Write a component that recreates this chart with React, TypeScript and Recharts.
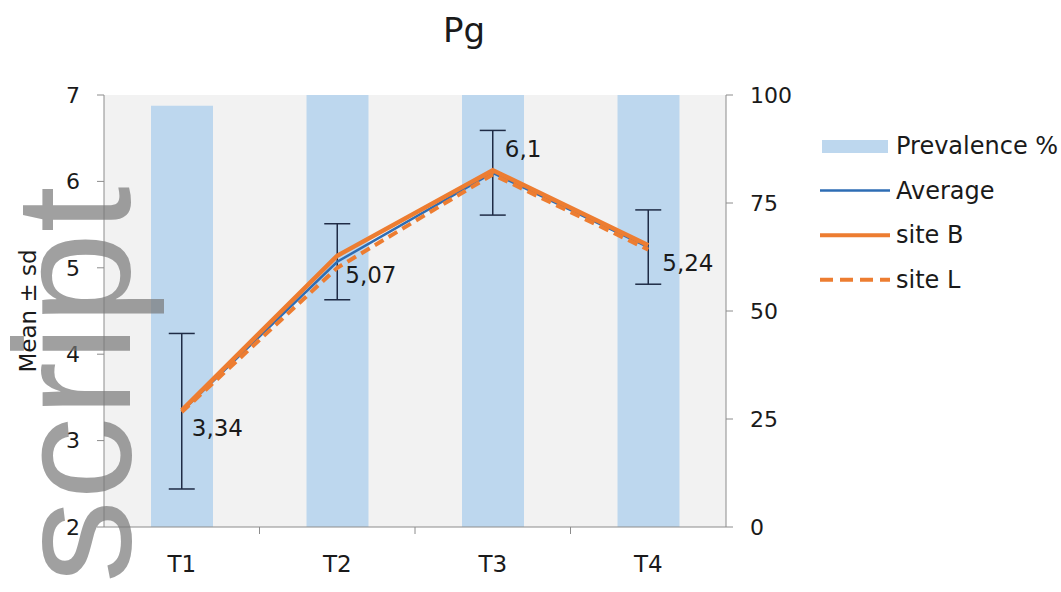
import React from 'react';
import {
  ComposedChart,
  Bar,
  Line,
  XAxis,
  YAxis,
  CartesianGrid,
  ErrorBar,
  LabelList,
  Legend,
} from 'recharts';

// ---- data ----
const categories = ['T1', 'T2', 'T3', 'T4'];
const prevalence = [97.5, 100, 100, 100];
const average = [3.34, 5.07, 6.1, 5.24];
const averageSd = [0.9, 0.44, 0.49, 0.43];
const siteB = [3.35, 5.14, 6.13, 5.26];
const siteL = [3.33, 5.0, 6.08, 5.21];
const meanTicks = [2, 3, 4, 5, 6, 7];
const prevalenceTicks = [0, 25, 50, 75, 100];
const titleText = 'Pg';
const yLabelText = 'Mean ± sd';
const seriesNames = ['Prevalence %', 'Average', 'site B', 'site L'];
const watermarkText = 'script';

const data = categories.map((cat, i) => ({
  cat,
  prevalence: prevalence[i],
  average: average[i],
  sd: averageSd[i],
  siteB: siteB[i],
  siteL: siteL[i],
}));

// ---- layout / style ----
const W = 1061;
const H = 592;
const PLOT_LEFT = 104;
const PLOT_RIGHT = 726;
const PLOT_TOP = 95;
const PLOT_W = PLOT_RIGHT - PLOT_LEFT;
const FONT = '"DejaVu Sans", sans-serif';
const TEXT = '#1a1a1a';
const AXIS = '#8c8c8c';
const BAR = '#bdd7ee';
const BLUE = '#2e6db4';
const ORANGE = '#ed7d31';
const ERR = '#1f2b45';

const labelOffsets = [
  { dx: 10, dy: 17 },
  { dx: 8, dy: 13 },
  { dx: 12, dy: -24 },
  { dx: 14, dy: 16 },
];

const formatComma = (v: number) => String(v).replace('.', ',');

const ValueLabel = (props: any) => {
  const { x, y, value, index } = props;
  const o = labelOffsets[index] || { dx: 8, dy: 14 };
  return (
    <text
      x={x + o.dx}
      y={y + o.dy}
      dominantBaseline="central"
      textAnchor="start"
      fontFamily={FONT}
      fontSize={23}
      fill={TEXT}
    >
      {formatComma(value)}
    </text>
  );
};

const XTick = (props: any) => {
  const { x, y, payload, index } = props;
  const half = PLOT_W / categories.length / 2;
  return (
    <g>
      <text
        x={x}
        y={y + 45}
        textAnchor="middle"
        fontFamily={FONT}
        fontSize={23}
        fill={TEXT}
      >
        {payload.value}
      </text>
      {index < categories.length - 1 && (
        <line x1={x + half} x2={x + half} y1={y} y2={y + 7} stroke={AXIS} strokeWidth={1} />
      )}
    </g>
  );
};

const legendStyles = [
  { kind: 'rect', color: BAR },
  { kind: 'line', color: BLUE, width: 2.5, dash: undefined },
  { kind: 'line', color: ORANGE, width: 4, dash: undefined },
  { kind: 'line', color: ORANGE, width: 4, dash: '13 7' },
];

const LegendContent = () => (
  <svg width={243} height={180} style={{ overflow: 'visible' }}>
    {seriesNames.map((name, i) => {
      const cy = 22 + i * 44.6;
      const s: any = legendStyles[i];
      return (
        <g key={name}>
          {s.kind === 'rect' ? (
            <rect x={4} y={cy - 6} width={66} height={13} fill={s.color} />
          ) : (
            <line
              x1={2}
              x2={72}
              y1={cy}
              y2={cy}
              stroke={s.color}
              strokeWidth={s.width}
              strokeDasharray={s.dash}
            />
          )}
          <text
            x={78}
            y={cy}
            dominantBaseline="central"
            fontFamily={FONT}
            fontSize={24}
            fill={TEXT}
          >
            {name}
          </text>
        </g>
      );
    })}
  </svg>
);

export default function App() {
  return (
    <div style={{ position: 'absolute', left: 0, top: 0, width: W, height: H, background: '#fff' }}>
      <ComposedChart
        width={W}
        height={H}
        data={data}
        margin={{ top: PLOT_TOP, right: 0, bottom: 25, left: 0 }}
      >
        <CartesianGrid fill="#f2f2f2" horizontal={false} vertical={false} stroke="none" yAxisId="left" />
        <XAxis
          dataKey="cat"
          height={40}
          tickLine={false}
          tickSize={0}
          tickMargin={0}
          axisLine={{ stroke: AXIS, strokeWidth: 1 }}
          tick={<XTick />}
          interval={0}
        />
        <YAxis
          yAxisId="left"
          width={PLOT_LEFT}
          domain={[2, 7]}
          ticks={meanTicks}
          interval={0}
          tickSize={7}
          tickMargin={17}
          axisLine={{ stroke: AXIS, strokeWidth: 1 }}
          tickLine={{ stroke: AXIS, strokeWidth: 1 }}
          tick={{ fill: TEXT, fontFamily: FONT, fontSize: 22 }}
          label={{
            value: yLabelText,
            angle: -90,
            position: 'insideLeft',
            offset: 28,
            style: { textAnchor: 'middle', fill: TEXT, fontFamily: FONT, fontSize: 23 },
          }}
        />
        <YAxis
          yAxisId="right"
          orientation="right"
          width={W - PLOT_RIGHT}
          domain={[0, 100]}
          ticks={prevalenceTicks}
          interval={0}
          tickSize={7}
          tickMargin={17}
          axisLine={{ stroke: AXIS, strokeWidth: 1 }}
          tickLine={{ stroke: AXIS, strokeWidth: 1 }}
          tick={{ fill: TEXT, fontFamily: FONT, fontSize: 22, textAnchor: 'start' }}
        />
        <Bar
          yAxisId="right"
          dataKey="prevalence"
          name={seriesNames[0]}
          fill={BAR}
          barSize={62}
          isAnimationActive={false}
        />
        <Line
          yAxisId="left"
          type="linear"
          dataKey="average"
          name={seriesNames[1]}
          stroke={BLUE}
          strokeWidth={2.5}
          dot={false}
          activeDot={false}
          isAnimationActive={false}
        >
          <ErrorBar dataKey="sd" direction="y" width={13} stroke={ERR} strokeWidth={1.5} />
        </Line>
        <Line
          yAxisId="left"
          type="linear"
          dataKey="siteL"
          name={seriesNames[3]}
          stroke={ORANGE}
          strokeWidth={4}
          strokeDasharray="10 6"
          dot={false}
          activeDot={false}
          isAnimationActive={false}
        />
        <Line
          yAxisId="left"
          type="linear"
          dataKey="siteB"
          name={seriesNames[2]}
          stroke={ORANGE}
          strokeWidth={4.5}
          dot={false}
          activeDot={false}
          isAnimationActive={false}
        />
        <Line
          yAxisId="left"
          type="linear"
          dataKey="average"
          stroke="none"
          legendType="none"
          dot={false}
          activeDot={false}
          isAnimationActive={false}
        >
          <LabelList dataKey="average" content={<ValueLabel />} />
        </Line>
        <Legend
          layout="vertical"
          align="center"
          verticalAlign="middle"
          content={<LegendContent />}
          wrapperStyle={{ left: 818, top: 124, width: 243, height: 180 }}
        />
      </ComposedChart>
      <svg
        width={W}
        height={H}
        style={{ position: 'absolute', left: 0, top: 0, pointerEvents: 'none' }}
      >
        <text x={464} y={42} textAnchor="middle" fontFamily={FONT} fontSize={34} fill={TEXT}>
          {titleText}
        </text>
        <text
          x={130}
          y={583}
          transform="rotate(-90 130 583)"
          fontFamily='"Liberation Sans", Arial, sans-serif'
          fontSize={166}
          fill="#777777"
          fillOpacity={0.7}
        >
          {watermarkText}
        </text>
      </svg>
    </div>
  );
}
